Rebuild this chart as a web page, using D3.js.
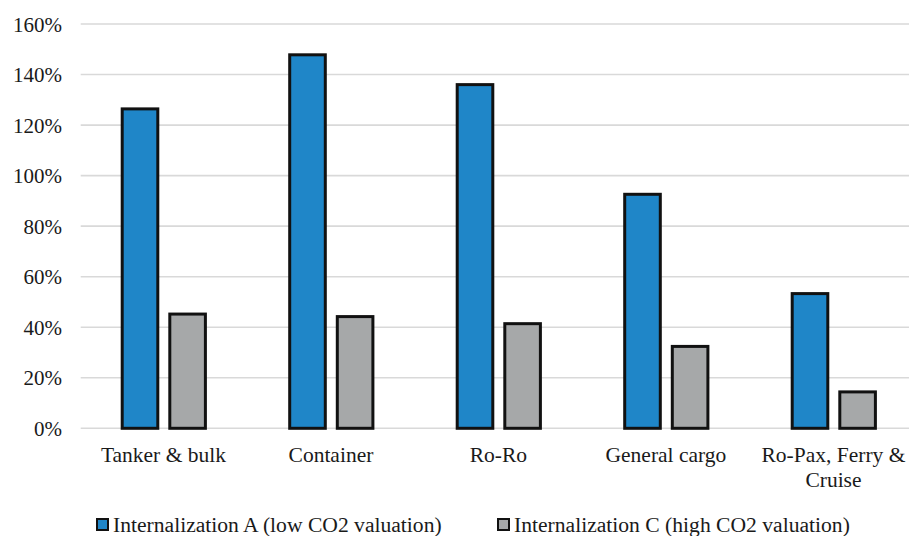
<!DOCTYPE html>
<html>
<head>
<meta charset="utf-8">
<script src="https://cdn.jsdelivr.net/npm/d3@7/dist/d3.min.js"></script>
<style>
  html, body { margin: 0; padding: 0; background: #fff; }
  svg { display: block; }
  svg text { font-family: "Liberation Serif", Tinos, Times, "DejaVu Serif", serif; }
</style>
</head>
<body>
<svg id="chart" width="909" height="536"></svg>
<script>
// Ship categories and the two internalization scenarios (share of external costs)
const categories = ["Tanker & bulk", "Container", "Ro-Ro", "General cargo", "Ro-Pax, Ferry & Cruise"];
const categoryLines = [["Tanker & bulk"], ["Container"], ["Ro-Ro"], ["General cargo"], ["Ro-Pax, Ferry &", "Cruise"]];
const seriesNames = ["Internalization A (low CO2 valuation)", "Internalization C (high CO2 valuation)"];
const valuesA = [1.27, 1.484, 1.366, 0.932, 0.539];
const valuesC = [0.458, 0.448, 0.42, 0.33, 0.15];
const yTicks = [0, 0.2, 0.4, 0.6, 0.8, 1.0, 1.2, 1.4, 1.6];
const colors = ["#1f86c8", "#a6a8a9"];
const serif = "'Liberation Serif', Tinos, Times, 'DejaVu Serif', serif";

(function draw() {
  const svg = d3.select("#chart");
  const plotLeft = 80.7, plotTop = 24, plotBottom = 428.3;
  const step = 167.5;

  const x = d3.scaleBand()
    .domain(categories)
    .range([plotLeft, plotLeft + step * categories.length])
    .paddingInner(0).paddingOuter(0);

  // Position of each series inside a category band
  const xs = d3.scaleBand()
    .domain([0, 1])
    .range([40, 126.2])
    .paddingInner(0.189).paddingOuter(0);

  const y = d3.scaleLinear().domain([0, 1.6]).range([plotBottom, plotTop]);

  // Horizontal gridlines
  svg.append("g")
    .selectAll("line")
    .data(yTicks)
    .join("line")
    .attr("x1", plotLeft).attr("x2", 909)
    .attr("y1", d => y(d)).attr("y2", d => y(d))
    .attr("stroke", "#d9d9d9").attr("stroke-width", 1.6);

  // Y axis labels
  const yAxis = d3.axisLeft(y).tickValues(yTicks).tickFormat(d3.format(".0%")).tickSize(0).tickPadding(0);
  const gy = svg.append("g").attr("transform", "translate(62,0)").call(yAxis);
  gy.attr("font-family", serif).attr("font-size", 21);
  gy.select(".domain").remove();
  gy.selectAll("text")
    .attr("font-family", serif)
    .attr("font-size", 21).attr("fill", "#1a1a1a").attr("dy", "0.34em");

  // Bars
  const rows = categories.map((c, i) => ({ c, v: [valuesA[i], valuesC[i]] }));
  const groups = svg.append("g").selectAll("g")
    .data(rows).join("g")
    .attr("transform", d => `translate(${x(d.c)},0)`);
  groups.selectAll("rect")
    .data(d => d.v.map((v, k) => ({ v, k })))
    .join("rect")
    .attr("x", d => xs(d.k) + 1.5)
    .attr("width", xs.bandwidth() - 3)
    .attr("y", d => y(d.v) + 1.5)
    .attr("height", d => y(0) - y(d.v) - 1.5)
    .attr("fill", d => colors[d.k])
    .attr("stroke", "#111").attr("stroke-width", 3);

  // Category labels
  const gx = svg.append("g");
  categoryLines.forEach((lines, i) => {
    const cx = x(categories[i]) + x.bandwidth() / 2 - 1;
    const t = gx.append("text")
      .attr("x", cx)
      .attr("y", 461.5)
      .attr("text-anchor", "middle")
      .attr("font-family", serif)
      .attr("font-size", 21.5).attr("fill", "#1a1a1a");
    lines.forEach((l, j) => {
      t.append("tspan").attr("x", cx).attr("dy", j === 0 ? 0 : 25).text(l);
    });
  });

  // Legend
  const legendX = [97, 498];
  const lg = svg.append("g").selectAll("g")
    .data(seriesNames).join("g")
    .attr("transform", (d, i) => `translate(${legendX[i]},519)`);
  lg.append("rect")
    .attr("x", 0).attr("y", 0).attr("width", 11).attr("height", 11)
    .attr("fill", (d, i) => colors[i]).attr("stroke", "#111").attr("stroke-width", 2);
  lg.append("text")
    .attr("x", 16).attr("y", 13)
    .attr("font-family", serif)
    .attr("font-size", 21.6).attr("fill", "#1a1a1a")
    .text(d => d);
})();
</script>
</body>
</html>
